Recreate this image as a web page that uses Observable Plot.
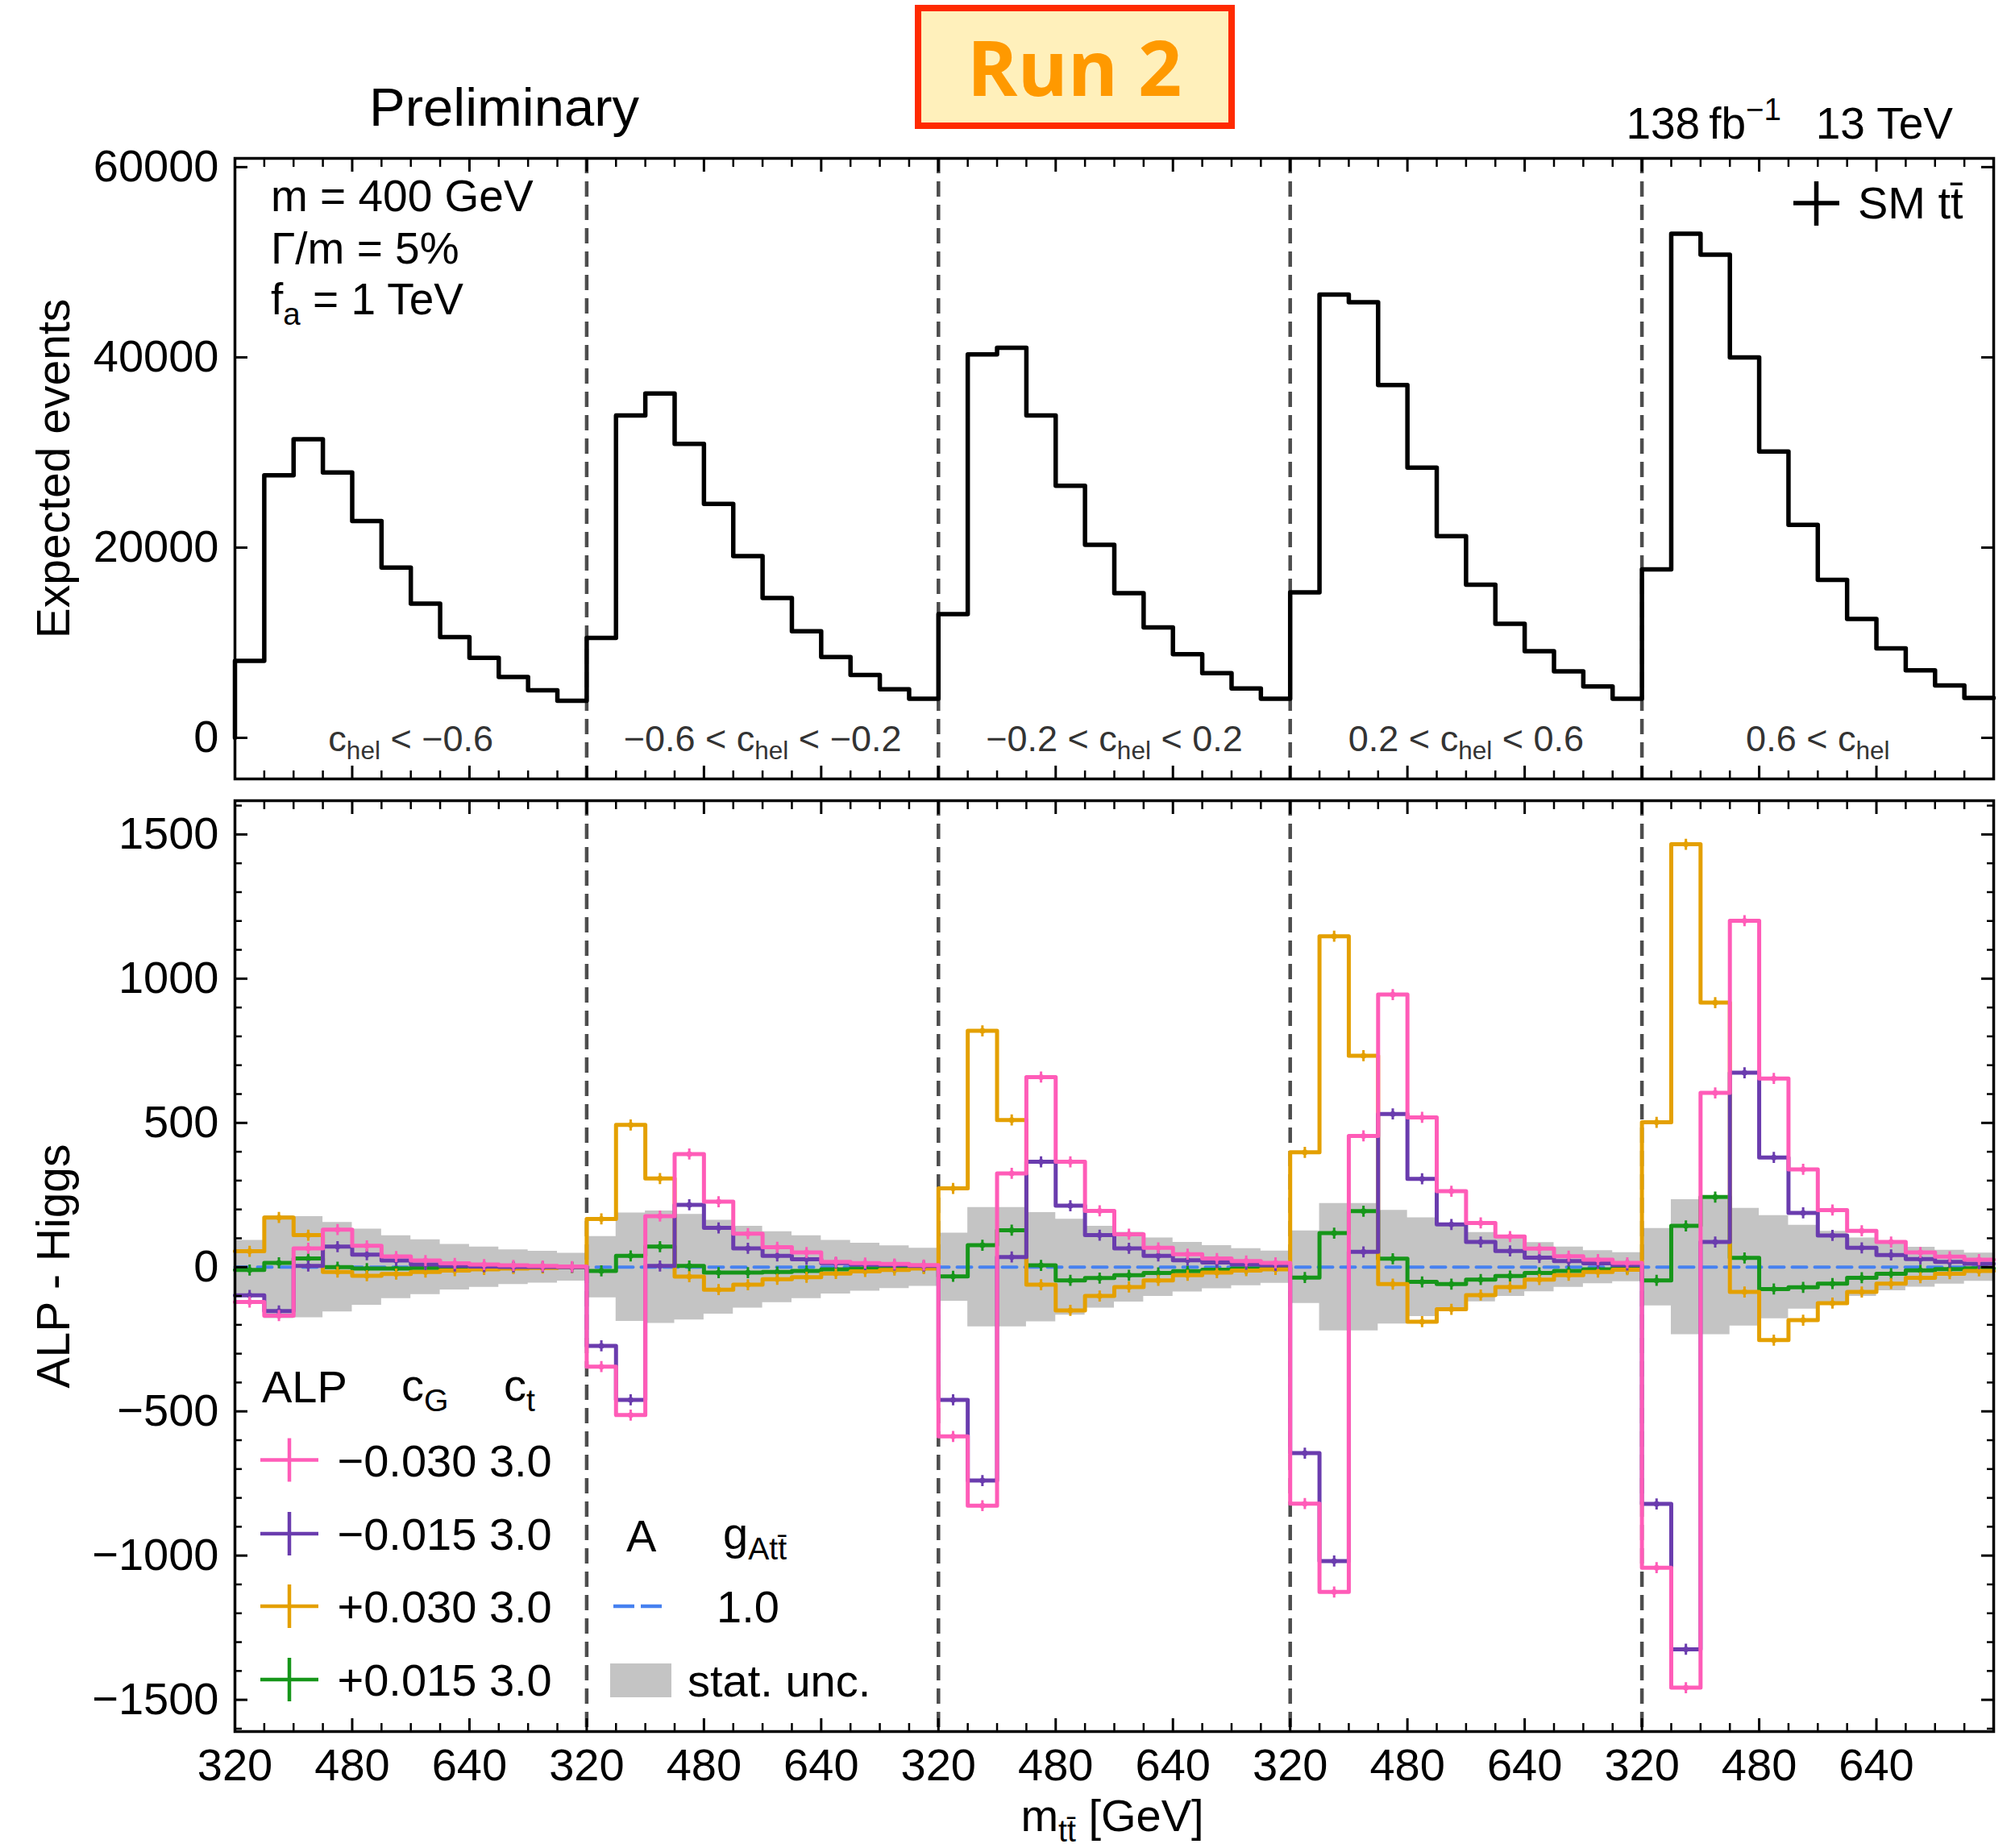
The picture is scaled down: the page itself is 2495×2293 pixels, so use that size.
<!DOCTYPE html>
<html>
<head>
<meta charset="utf-8">
<script src="https://cdn.jsdelivr.net/npm/d3@7"></script>
<script src="https://cdn.jsdelivr.net/npm/@observablehq/plot@0.6"></script>
<style>
  html, body { margin: 0; padding: 0; background: #fff; }
  #wrap { position: relative; width: 2495px; height: 2293px; overflow: hidden; background: #fff; }
  #wrap > svg { position: absolute; left: 0; }
</style>
</head>
<body>
<div id="wrap"></div>
<script>
// ---------------- data ----------------
// m_tt bin left edges (GeV), 40 GeV wide bins, repeated for each c_hel category
const mttEdges = [320, 360, 400, 440, 480, 520, 560, 600, 640, 680, 720, 760];
const binWidth = 40;
const mttTickLabels = [320, 480, 640];
const chelLabels = ["c_{hel} < −0.6", "−0.6 < c_{hel} < −0.2", "−0.2 < c_{hel} < 0.2", "0.2 < c_{hel} < 0.6", "0.6 < c_{hel}"];

// SM ttbar expected events (5 c_hel categories x 12 m_tt bins)
const smTT = [
   8100, 27600, 31400, 27900, 22800, 17900, 14100, 10600,  8400,  6400,  5000,  3900,
  10500, 33900, 36200, 30900, 24600, 19100, 14700, 11200,  8500,  6600,  5100,  4100,
  13000, 40300, 41000, 33900, 26500, 20300, 15200, 11600,  8800,  6800,  5200,  4100,
  15300, 46600, 45800, 37100, 28400, 21200, 16100, 12000,  9100,  7000,  5400,  4100,
  17700, 53000, 50800, 40000, 30100, 22400, 16600, 12500,  9400,  7100,  5500,  4200
];

// ALP - Higgs, c_G = -0.030, c_t = 3.0
const alpM030 = [
   -121,  -168,   65,  130,   74,   37,   23,   13,    9,    6,    4,    2,
   -345,  -513,  177,  392,  227,  116,   69,   51,   18,   14,   11,    7,
   -587,  -827,  325,  659,  365,  195,  114,   67,   45,   30,   21,   15,
   -820, -1126,  455,  945,  519,  263,  153,  106,   64,   38,   26,   15,
  -1042, -1458,  604, 1201,  654,  339,  198,  126,   87,   51,   36,   26
];
// c_G = -0.015
const alpM015 = [
    -98,  -152,    4,   71,   43,   23,    9,    4,    2,    1,    1,    0,
   -273,  -460,    4,  216,  136,   65,   39,   27,   14,    9,    7,    4,
   -460,  -740,   35,  365,  213,  111,   65,   39,   24,   16,   10,    6,
   -645, -1019,   53,  531,  306,  148,   87,   56,   33,   21,   13,    7,
   -821, -1325,   87,  674,  380,  188,  110,   67,   42,   28,   18,   12
];
// c_G = +0.030
const alpP030 = [
     55,   172,  111,  -17,  -30,  -24,  -17,  -12,   -8,   -5,   -3,   -1,
    167,   493,  307,  -33,  -78,  -61,  -42,  -35,  -22,  -15,  -10,   -5,
    273,   819,  510,  -61, -150, -100,  -69,  -46,  -28,  -19,  -12,   -8,
    398,  1147,  733,  -59, -189, -146,  -97,  -69,  -43,  -28,  -17,   -9,
    502,  1466,  917,  -86, -253, -184, -125,  -86,  -57,  -37,  -23,  -13
];
// c_G = +0.015
const alpP015 = [
    -10,    15,   30,    0,   -5,   -5,   -3,   -2,   -1,   -1,    0,    0,
    -13,    39,   71,    4,  -19,  -19,  -17,  -13,   -8,   -5,   -3,   -2,
    -32,    76,  128,    6,  -46,  -38,  -28,  -20,  -14,   -9,   -5,   -3,
    -36,   118,  194,   29,  -51,  -59,  -43,  -31,  -20,  -13,   -8,   -5,
    -46,   143,  243,   32,  -76,  -70,  -57,  -37,  -23,  -11,   -7,   -4
];
// A, g_Att = 1.0 (reference, flat)
const aG10 = [
  0,0,0,0,0,0,0,0,0,0,0,0,
  0,0,0,0,0,0,0,0,0,0,0,0,
  0,0,0,0,0,0,0,0,0,0,0,0,
  0,0,0,0,0,0,0,0,0,0,0,0,
  0,0,0,0,0,0,0,0,0,0,0,0
];
// statistical uncertainty (half-width of band)
const statUnc = [
   93, 178, 175, 155, 132, 109,  95,  79,  70,  60,  55,  48,
  106, 188, 195, 183, 163, 142, 123, 109,  93,  83,  74,  66,
  118, 207, 207, 189, 166, 142, 121, 101,  86,  75,  64,  56,
  126, 221, 221, 197, 171, 144, 120, 101,  85,  70,  57,  50,
  134, 234, 234, 204, 179, 145, 124, 101,  82,  69,  59,  49
];

const alpCG = ["−0.030", "−0.015", "+0.030", "+0.015"];
const alpCt = ["3.0", "3.0", "3.0", "3.0"];
const alpColors = ["#ff5cb8", "#6a3cae", "#e4a000", "#16961a"];
const topYTicks = [0, 20000, 40000, 60000];
const botYTicks = [-1500, -1000, -500, 0, 500, 1000, 1500];

// ---------------- helpers ----------------
const FONT = '"Liberation Sans", Arial, Helvetica, sans-serif';
const W = 2495;
const nBin = mttEdges.length;
const nSeg = chelLabels.length;
const span = nBin * binWidth;
const xMax = nSeg * span;
const gx = k => Math.floor(k / nBin) * span + (mttEdges[k % nBin] - mttEdges[0]);
const stepRows = vals => {
  const r = vals.map((v, k) => ({x: gx(k), y: v}));
  r.push({x: xMax, y: vals[vals.length - 1]});
  return r;
};
const centerRows = vals => vals.map((v, k) => ({x: gx(k) + binWidth / 2, y: v}));
const segBounds = d3.range(1, nSeg).map(s => s * span);
const majorX = d3.range(nSeg).flatMap(s => mttTickLabels.map(t => s * span + (t - mttEdges[0])));
const minorX = d3.range(0, xMax + 1, binWidth).filter(v => !majorX.includes(v));
const botMinorY = d3.range(-1600, 1601, 100).filter(v => !botYTicks.includes(v));
const fmtMinus = d => d < 0 ? "−" + Math.abs(d) : String(d);
const blank = () => "";

function rich(sel, str, fs) {
  const re = /([_^])\{([^}]*)\}/g;
  let last = 0, m, cur = 0;
  const add = (t, target, size) => {
    const ts = sel.append("tspan").text(t);
    const dy = target - cur;
    if (dy) ts.attr("dy", dy);
    if (size) ts.attr("font-size", size);
    cur = target;
  };
  while ((m = re.exec(str))) {
    if (m.index > last) add(str.slice(last, m.index), 0);
    add(m[2], m[1] === "_" ? 0.24 * fs : -0.42 * fs, 0.7 * fs);
    last = re.lastIndex;
  }
  if (last < str.length) add(str.slice(last), 0);
}
function richifySvg(svg, fs) {
  d3.select(svg).selectAll("text").each(function() {
    const t = this.textContent;
    if (!/[_^]\{/.test(t)) return;
    const s = d3.select(this);
    s.text("");
    rich(s, t, fs);
  });
}

function frameTicks(yMajor, yMinor) {
  const m = [
    Plot.axisX({anchor: "bottom", ticks: majorX, tickSize: -16, tickFormat: blank, label: null, strokeWidth: 3}),
    Plot.axisX({anchor: "bottom", ticks: minorX, tickSize: -10, tickFormat: blank, label: null, strokeWidth: 2.5}),
    Plot.axisX({anchor: "top", ticks: majorX, tickSize: -16, tickFormat: blank, label: null, strokeWidth: 3}),
    Plot.axisX({anchor: "top", ticks: minorX, tickSize: -10, tickFormat: blank, label: null, strokeWidth: 2.5}),
    Plot.axisY({anchor: "right", ticks: yMajor, tickSize: -16, tickFormat: blank, label: null, strokeWidth: 3})
  ];
  if (yMinor) {
    m.push(Plot.axisY({anchor: "left", ticks: yMinor, tickSize: -9, tickFormat: blank, label: null, strokeWidth: 2.5}));
    m.push(Plot.axisY({anchor: "right", ticks: yMinor, tickSize: -9, tickFormat: blank, label: null, strokeWidth: 2.5}));
  }
  return m;
}

// ---------------- top panel ----------------
const topPlot = Plot.plot({
  width: W, height: 980,
  marginLeft: 291, marginRight: W - 2473, marginTop: 196, marginBottom: 14,
  x: {domain: [0, xMax], label: null},
  y: {domain: [-4320, 60920], label: null},
  style: {fontFamily: FONT, fontSize: "56px", color: "#000", background: "transparent"},
  marks: [
    Plot.ruleX(segBounds, {stroke: "#4d4d4d", strokeWidth: 4.5, strokeDasharray: "19,10"}),
    Plot.line([{x: 0, y: 0}, ...stepRows(smTT)], {x: "x", y: "y", curve: "step-after", stroke: "#000", strokeWidth: 5.5}),
    Plot.text(chelLabels, {x: (d, i) => i * span + span / 2, text: d => d, frameAnchor: "bottom", dy: -35, lineAnchor: "bottom", textAnchor: "middle", fontSize: 45, fill: "#333"}),
    Plot.axisY({anchor: "left", ticks: topYTicks, tickSize: -16, tickPadding: 36, tickFormat: d => String(d), fontSize: 56, label: null, strokeWidth: 3}),
    ...frameTicks(topYTicks, null),
    Plot.text(["Expected events"], {text: d => d, frameAnchor: "left", rotate: -90, dx: -206, lineAnchor: "bottom", textAnchor: "middle", fontSize: 57}),
    Plot.frame({stroke: "#000", strokeWidth: 3.5})
  ]
});
richifySvg(topPlot, 45);
topPlot.style.top = "0px";

// ---------------- bottom panel ----------------
const series = [
  {vals: alpP015, color: alpColors[3]},
  {vals: alpP030, color: alpColors[2]},
  {vals: alpM015, color: alpColors[1]},
  {vals: alpM030, color: alpColors[0]}
];
const bottomPlot = Plot.plot({
  width: W, height: 1313,
  marginLeft: 291, marginRight: W - 2473, marginTop: 13, marginBottom: 145,
  x: {domain: [0, xMax], label: null},
  y: {domain: [-1610, 1617], label: null},
  style: {fontFamily: FONT, fontSize: "56px", color: "#000", background: "transparent"},
  marks: [
    Plot.areaY(stepRows(statUnc), {x: "x", y1: d => -d.y, y2: d => d.y, curve: "step-after", fill: "#c4c4c4"}),
    Plot.ruleX(segBounds, {stroke: "#4d4d4d", strokeWidth: 4.5, strokeDasharray: "19,10"}),
    Plot.line(stepRows(aG10), {x: "x", y: "y", curve: "step-after", stroke: "#4681f0", strokeWidth: 4, strokeDasharray: "18,10"}),
    ...series.flatMap(s => [
      Plot.line(stepRows(s.vals), {x: "x", y: "y", curve: "step-after", stroke: s.color, strokeWidth: 5}),
      Plot.dot(centerRows(s.vals), {x: "x", y: "y", symbol: "plus", r: 4.5, stroke: s.color, strokeWidth: 3}),
      Plot.dot(centerRows(s.vals), {x: "x", y: "y", r: 3.5, fill: s.color})
    ]),
    Plot.axisY({anchor: "left", ticks: botYTicks, tickSize: -16, tickPadding: 36, tickFormat: fmtMinus, fontSize: 56, label: null, strokeWidth: 3}),
    ...frameTicks(botYTicks, botMinorY),
    Plot.axisX({anchor: "bottom", ticks: majorX, tickSize: 0, tickPadding: 21, tickFormat: d => mttEdges[0] + (d % span), fontSize: 56, label: null}),
    Plot.text(["ALP - Higgs"], {text: d => d, frameAnchor: "left", rotate: -90, dx: -206, lineAnchor: "bottom", textAnchor: "middle", fontSize: 57}),
    Plot.frame({stroke: "#000", strokeWidth: 3.5})
  ]
});
bottomPlot.style.top = "980px";

const wrap = document.getElementById("wrap");
wrap.appendChild(topPlot);
wrap.appendChild(bottomPlot);

// ---------------- annotations / legends ----------------
const ov = d3.select(wrap).append("svg")
  .attr("width", W).attr("height", 2293)
  .style("position", "absolute").style("left", "0px").style("top", "0px")
  .style("pointer-events", "none")
  .attr("font-family", FONT);

function txt(x, y, str, fs, opts = {}) {
  const t = ov.append("text").attr("x", x).attr("y", y).attr("font-size", fs)
    .attr("fill", opts.fill || "#000");
  if (opts.anchor) t.attr("text-anchor", opts.anchor);
  if (opts.weight) t.attr("font-weight", opts.weight);
  if (opts.family) t.attr("font-family", opts.family);
  t.style("white-space", "pre");
  rich(t, str, fs);
  return t;
}

// header
txt(458, 156, "Preliminary", 67);
ov.append("rect").attr("x", 1139).attr("y", 10).attr("width", 389).attr("height", 146)
  .attr("fill", "#fff0bb").attr("stroke", "#ff2a00").attr("stroke-width", 8);
txt(1333, 119, "Run 2", 95, {anchor: "middle", fill: "#ff9900", weight: 700, family: '"Open Sans", sans-serif'});
txt(2423, 172, "138\u2009fb^{−1}\u2002 13 TeV", 55, {anchor: "end"});

// top panel annotations
txt(336, 261.5, "m = 400 GeV", 55);
txt(336, 326.5, "Γ/m = 5%", 55);
txt(336, 390, "f_{a} = 1 TeV", 55);
ov.append("line").attr("x1", 2225).attr("x2", 2282).attr("y1", 252).attr("y2", 252).attr("stroke", "#000").attr("stroke-width", 5.5);
ov.append("line").attr("x1", 2253.5).attr("x2", 2253.5).attr("y1", 225).attr("y2", 280).attr("stroke", "#000").attr("stroke-width", 5.5);
txt(2305, 271, "SM tt\u0304", 56);

// bottom legend
txt(325, 1740, "ALP", 56);
txt(498, 1738, "c_{G}", 56);
txt(625, 1738, "c_{t}", 56);
const rowY = [1811.5, 1903, 1993, 2084];
alpCG.forEach((cg, i) => {
  const y = rowY[i];
  ov.append("line").attr("x1", 323).attr("x2", 395).attr("y1", y).attr("y2", y).attr("stroke", alpColors[i]).attr("stroke-width", 4.5);
  ov.append("line").attr("x1", 359).attr("x2", 359).attr("y1", y - 27).attr("y2", y + 27).attr("stroke", alpColors[i]).attr("stroke-width", 4.5);
  txt(418.5, y + 20, cg + " " + alpCt[i], 56);
});
txt(777, 1925, "A", 56);
txt(897, 1922, "g_{Att\u0304}", 56);
ov.append("line").attr("x1", 761).attr("x2", 821).attr("y1", 1993).attr("y2", 1993)
  .attr("stroke", "#4681f0").attr("stroke-width", 4.5).attr("stroke-dasharray", "26,8");
txt(889, 2013, "1.0", 56);
ov.append("rect").attr("x", 757).attr("y", 2064).attr("width", 76).attr("height", 42).attr("fill", "#c4c4c4");
txt(853, 2105, "stat. unc.", 56);

// x-axis title
txt(1380, 2272, "m_{tt\u0304} [GeV]", 56, {anchor: "middle"});
</script>
</body>
</html>
